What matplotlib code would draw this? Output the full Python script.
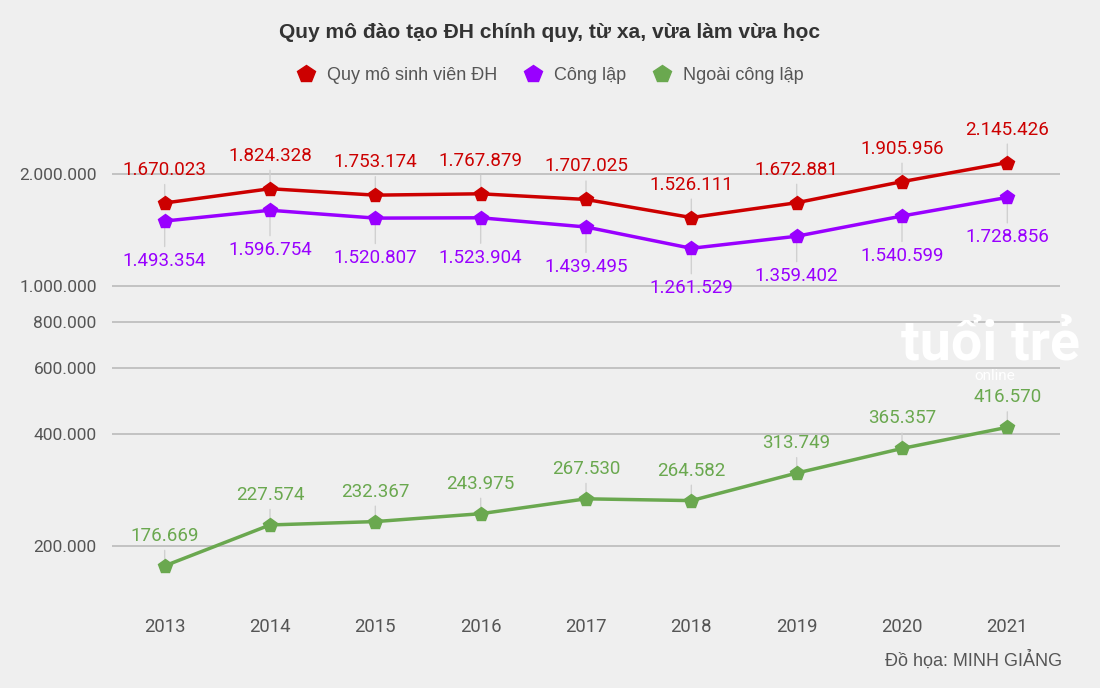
import numpy as np
import matplotlib as mpl
mpl.use("Agg")
from matplotlib import pyplot as plt
from matplotlib.lines import Line2D

years = [2013, 2014, 2015, 2016, 2017, 2018, 2019, 2020, 2021]
total = [1670023, 1824328, 1753174, 1767879, 1707025, 1526111, 1672881, 1905956, 2145426]
public = [1493354, 1596754, 1520807, 1523904, 1439495, 1261529, 1359402, 1540599, 1728856]
private = [176669, 227574, 232367, 243975, 267530, 264582, 313749, 365357, 416570]

names = ["Quy mô sinh viên ĐH", "Công lập", "Ngoài công lập"]
colors = ["#cc0000", "#9900ff", "#6aa84f"]
yticks = [200000, 400000, 600000, 800000, 1000000, 2000000]

plt.rcParams['font.family'] = ['Roboto', 'DejaVu Sans']
arial = ['Liberation Sans', 'DejaVu Sans']


def fmt(v):
    return f"{v:,}".replace(",", ".")


fig = plt.figure(figsize=(11, 6.88), dpi=100, facecolor="#efefef")
ax = fig.add_axes([112 / 1100, 1 - 600 / 688, (1060 - 112) / 1100, (600 - 110) / 688])
ax.set_facecolor("#efefef")

ax.set_yscale("log")
ax.set_ylim(143000, 2.97e6)
ax.set_xlim(2012.5, 2021.5)

ax.set_yticks(yticks)
ax.set_yticklabels([fmt(v) for v in yticks])
ax.yaxis.set_minor_locator(mpl.ticker.NullLocator())
ax.set_xticks(years)
ax.set_xticklabels([str(y) for y in years])
ax.tick_params(axis="both", length=0, colors="#555555")
ax.tick_params(axis="x", pad=13, labelsize=13.3)
ax.tick_params(axis="y", pad=11, labelsize=12.5)
ax.grid(axis="y", color="#bbbbbb", lw=1.2)
ax.set_axisbelow(True)
for s in ax.spines.values():
    s.set_visible(False)

# data labels: offset in pixels (red above, purple below, green above)
offsets = [33, -40, 30]
series = [total, public, private]
for vals, col, off in zip(series, colors, offsets):
    ax.plot(years, vals, color=col, lw=2.5, marker="p", ms=10, zorder=3)
    for x, v in zip(years, vals):
        ax.annotate(fmt(v), xy=(x, v), xytext=(0, off), textcoords="offset pixels",
                    ha="center", va="center", fontsize=13.5, color=col, zorder=1,
                    arrowprops=dict(arrowstyle="-", color="#d0d0d0", lw=1,
                                    shrinkA=2, shrinkB=0))

# watermark
fig.text(990, 688 - 371, "tuổi trẻ", transform=None, ha="center", va="bottom",
         fontsize=40, fontweight="bold", color="white", zorder=0)
fig.text(995, 688 - 369, "online", transform=None, ha="center", va="top",
         fontsize=11, color="white", zorder=0)

fig.text(0.5, 1 - 32 / 688, "Quy mô đào tạo ĐH chính quy, từ xa, vừa làm vừa học",
         ha="center", va="center", fontsize=15.1, fontweight="bold", color="#333333",
         family=arial)

handles = [Line2D([], [], ls="none", marker="p", ms=13, color=c) for c in colors]
fig.legend(handles, names, loc="center", bbox_to_anchor=(0.5, 1 - 76 / 688), ncol=3,
           frameon=False, labelcolor="#555555", handlelength=1.0, handletextpad=0.65,
           columnspacing=1.5, prop=dict(family=arial, size=13))

fig.text(1062 / 1100, 1 - 660 / 688, "Đồ họa: MINH GIẢNG", ha="right", va="center",
         fontsize=13, color="#555555", family=arial)

fig.savefig("out.png", dpi=100, facecolor=fig.get_facecolor())
